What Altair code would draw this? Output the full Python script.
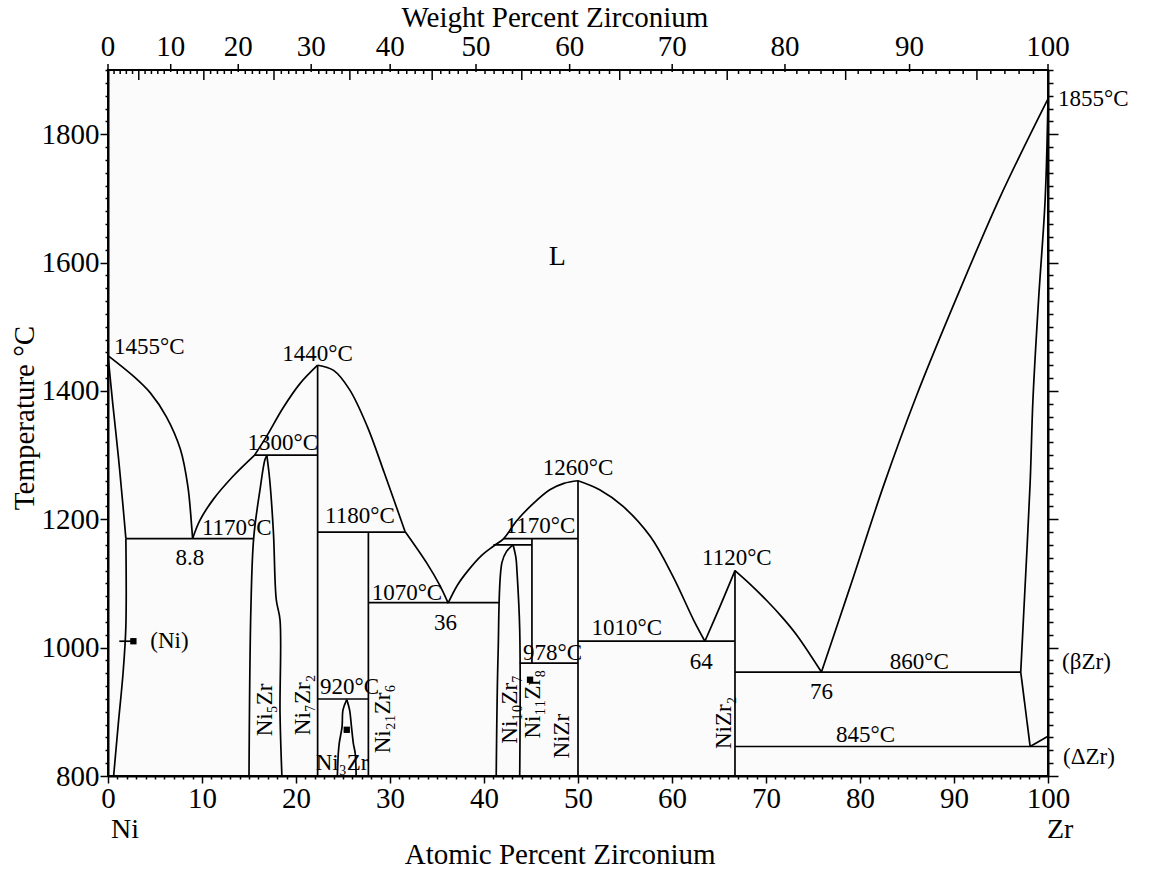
import altair as alt
import pandas as pd

# ---------------- phase boundaries: (atomic % Zr, temperature in degC) ----------------
liq_ni = [(0, 1455), (2.7, 1423), (4.5, 1397), (6.2, 1360), (7.7, 1309), (8.5, 1251), (8.9, 1189), (9.0, 1170)]
sol_ni = [(0, 1455), (0.5, 1381), (1.1, 1298), (1.6, 1220), (1.9, 1170)]
solv_ni = [(1.9, 1170), (1.9, 1033), (1.6, 960), (1.1, 882), (0.6, 800)]
iso_1170a = [(1.9, 1170), (15.5, 1170)]
ni5zr_left = [(16.9, 1299), (16.7, 1293), (16.2, 1249), (15.5, 1171), (15.2, 1060), (15.0, 800)]
ni5zr_right = [(16.9, 1299), (17.2, 1262), (17.6, 1179), (17.9, 1075), (18.3, 1043), (18.3, 898), (18.5, 800)]
liq_a1 = [(9.0, 1170), (9.8, 1199), (11.2, 1231), (13.3, 1267), (15.6, 1300)]
liq_a2 = [(15.6, 1300), (16.9, 1330), (18.6, 1373), (20.4, 1411), (22.3, 1440)]
iso_1300 = [(15.6, 1300), (22.3, 1300)]
ni7zr2 = [(22.3, 1440), (22.3, 800)]
liq_b1 = [(22.3, 1440), (24.0, 1432), (25.7, 1402), (27.6, 1344), (29.4, 1272), (31.6, 1181)]
liq_b2 = [(31.6, 1181), (33.9, 1132), (35.3, 1097), (36.2, 1069)]
iso_1180 = [(22.3, 1180), (31.6, 1180)]
ni21zr8 = [(27.7, 1180), (27.7, 800)]
iso_1070 = [(27.7, 1070), (41.6, 1070)]
iso_920 = [(22.3, 920), (27.7, 920)]
ni3zr_left = [(25.4, 919), (25.0, 903), (24.9, 877), (24.6, 851), (24.5, 835), (24.4, 800)]
ni3zr_right = [(25.4, 919), (25.7, 903), (25.9, 877), (26.1, 851), (26.3, 835), (26.4, 800)]
liq_c = [(36.2, 1070), (37.2, 1098), (38.3, 1120), (39.7, 1143), (41.0, 1158), (42.1, 1170), (43.5, 1198),
         (45.2, 1224), (47.0, 1246), (48.5, 1256), (50.0, 1260)]
iso_1160 = [(41.0, 1160), (45.1, 1160)]
iso_1170b = [(42.1, 1170), (50.0, 1170)]
ni10zr7_left = [(43.1, 1160), (42.4, 1150), (41.9, 1132), (41.5, 991), (41.3, 800)]
ni10zr7_right = [(43.1, 1160), (43.4, 1140), (43.5, 1121), (43.8, 1028), (43.8, 800)]
ni11zr9 = [(45.1, 1170), (45.1, 976)]
iso_978 = [(43.8, 976), (50.0, 976)]
nizr = [(50.0, 1260), (50.0, 800)]
liq_d = [(50.0, 1260), (52.3, 1246), (54.8, 1220), (57.7, 1173), (60.1, 1111), (62.3, 1043), (63.5, 1010)]
iso_1010 = [(50.0, 1010), (66.7, 1010)]
liq_e = [(63.5, 1010), (65.1, 1064), (66.7, 1120)]
nizr2 = [(66.7, 1120), (66.7, 800)]
liq_f = [(66.7, 1120), (68.3, 1099), (70.1, 1073), (71.8, 1046), (73.3, 1019), (75.9, 962)]
liq_g = [(75.9, 962), (77.9, 1049), (79.3, 1110), (82.5, 1252), (86.0, 1392), (90.3, 1546), (94.9, 1702), (100.0, 1855)]
sol_zr = [(100.0, 1855), (99.7, 1699), (99.0, 1543), (98.4, 1387), (98.1, 1257), (97.4, 1049), (97.1, 962)]
solv_zr = [(97.1, 962), (98.1, 846)]
zr_alpha = [(98.1, 846), (100.0, 862)]
iso_960 = [(66.7, 962), (97.1, 962)]
iso_845 = [(66.7, 846), (100.0, 846)]
ni_pointer = [(1.2, 1010), (2.6, 1010)]

segments = {
    "liq_ni": liq_ni, "sol_ni": sol_ni, "solv_ni": solv_ni, "iso_1170a": iso_1170a,
    "ni5zr_left": ni5zr_left, "ni5zr_right": ni5zr_right, "liq_a1": liq_a1, "liq_a2": liq_a2,
    "iso_1300": iso_1300, "ni7zr2": ni7zr2, "liq_b1": liq_b1, "liq_b2": liq_b2, "iso_1180": iso_1180,
    "ni21zr8": ni21zr8, "iso_1070": iso_1070, "iso_920": iso_920, "ni3zr_left": ni3zr_left,
    "ni3zr_right": ni3zr_right, "liq_c": liq_c, "iso_1160": iso_1160, "iso_1170b": iso_1170b,
    "ni10zr7_left": ni10zr7_left, "ni10zr7_right": ni10zr7_right, "ni11zr9": ni11zr9,
    "iso_978": iso_978, "nizr": nizr, "liq_d": liq_d, "iso_1010": iso_1010, "liq_e": liq_e,
    "nizr2": nizr2, "liq_f": liq_f, "liq_g": liq_g, "sol_zr": sol_zr, "solv_zr": solv_zr,
    "zr_alpha": zr_alpha, "iso_960": iso_960, "iso_845": iso_845, "ni_pointer": ni_pointer,
}

# small black pointer marks
blob_x = [2.7, 25.4, 44.9]
blob_T = [1010, 872, 950]

# ---------------- annotations ----------------
ann_text = ["1455°C", "1440°C", "1300°C", "1170°C", "8.8", "1180°C", "1070°C", "36", "1260°C", "1170°C",
            "1120°C", "1010°C", "64", "978°C", "920°C", "860°C", "76", "845°C", "Ni₃Zr"]
ann_x = [4.4, 22.3, 18.6, 13.7, 8.7, 26.8, 31.8, 35.9, 50.0, 46.0, 66.9, 55.2, 63.1, 47.3, 25.7, 86.3, 75.9, 80.6, 24.9]
ann_T = [1469, 1457, 1319, 1186, 1140, 1205, 1085, 1038, 1280, 1189, 1140, 1030, 978, 991, 939, 978, 931, 864, 820]

side_text = ["1855°C", "(βZr)", "(ΔZr)", "(Ni)"]
side_x = [101.06, 101.5, 101.6, 4.5]
side_T = [1855, 978, 830, 1010]

phase_text = ["Ni₅Zr", "Ni₇Zr₂", "Ni₂₁Zr₆", "Ni₁₀Zr₇", "Ni₁₁Zr₈", "NiZr", "NiZr₂"]
phase_x = [16.7, 20.7, 29.3, 42.8, 45.2, 48.3, 65.5]
phase_T = [903, 911, 889, 904, 912, 862, 883]

# weight-percent ticks of the top axis
wt_major = list(range(0, 101, 10))
wt_mid = list(range(5, 100, 10))
wt_minor = [w for w in range(1, 100) if w % 5 != 0]


def wt_to_at(w):
    a = w / 91.224
    b = (100 - w) / 58.693
    return 100 * a / (a + b)


FONT = "Liberation Serif"

rows = []
for name, pts in segments.items():
    for i, (x, t) in enumerate(pts):
        rows.append({"seg": name, "i": i, "x": x, "T": t})
lines_df = pd.DataFrame(rows)

XS = alt.Scale(domain=[0, 100], nice=False, zero=False)
YS = alt.Scale(domain=[800, 1900], nice=False, zero=False)

x_axis = alt.Axis(
    values=list(range(0, 101)),
    labelExpr="datum.value % 10 == 0 ? datum.label : ''",
    tickSize={"condition": {"test": "datum.value % 10 == 0", "value": 7}, "value": 3},
    format="d", labelFont=FONT, labelFontSize=29, labelColor="black", labelPadding=1,
    tickColor="black", tickWidth=1.5, domainColor="black", domainWidth=2,
    grid=False, title=None, labelOverlap=False, labelFlush=False,
)
y_left = alt.Axis(
    values=list(range(800, 1901, 20)),
    labelExpr="datum.value % 200 == 0 ? datum.label : ''",
    tickSize={"condition": {"test": "datum.value % 200 == 0", "value": 8}, "value": 3},
    format="d", labelFont=FONT, labelFontSize=29, labelColor="black", labelPadding=1,
    tickColor="black", tickWidth=1.5, domainColor="black", domainWidth=2,
    grid=False, title=None, labelOverlap=False, labelFlush=False,
)
y_right = alt.Axis(
    orient="right", values=list(range(800, 1901, 20)), labels=False,
    tickSize={"condition": {"test": "datum.value % 200 == 0", "value": 10}, "value": 5},
    tickColor="black", tickWidth=1.5, domainColor="black", domainWidth=2, grid=False, title=None,
)


def X(field="x"):
    return alt.X(f"{field}:Q", scale=XS, axis=x_axis)


def Y(field="T", axis=None):
    return alt.Y(f"{field}:Q", scale=YS, axis=axis)


lines = alt.Chart(lines_df).mark_line(color="black", strokeWidth=1.7, interpolate="catmull-rom").encode(
    x=X(), y=Y(axis=y_left), detail="seg:N", order="i:Q"
)
right_axis = alt.Chart(pd.DataFrame({"x": [0, 100], "T": [800, 1900]})).mark_point(opacity=0).encode(
    x=X(), y=Y(axis=y_right)
)

blobs = alt.Chart(pd.DataFrame({"x": blob_x, "T": blob_T})).mark_point(
    shape="square", filled=True, color="black", size=40, opacity=1
).encode(x=X(), y=Y())

ann = alt.Chart(pd.DataFrame({"x": ann_x, "T": ann_T, "t": ann_text})).mark_text(
    font=FONT, fontSize=23, color="black", align="center", baseline="middle"
).encode(x=X(), y=Y(), text="t:N")

side = alt.Chart(pd.DataFrame({"x": side_x, "T": side_T, "t": side_text})).mark_text(
    font=FONT, fontSize=23, color="black", align="left", baseline="middle"
).encode(x=X(), y=Y(), text="t:N")

phase = alt.Chart(pd.DataFrame({"x": phase_x, "T": phase_T, "t": phase_text})).mark_text(
    font=FONT, fontSize=23, color="black", align="center", baseline="middle", angle=270
).encode(x=X(), y=Y(), text="t:N")

liquid = alt.Chart(pd.DataFrame({"x": [47.8], "T": [1608], "t": ["L"]})).mark_text(
    font=FONT, fontSize=28, color="black", align="center", baseline="middle"
).encode(x=X(), y=Y(), text="t:N")

# top (weight percent) axis
top_major = pd.DataFrame({"x": [wt_to_at(w) for w in wt_major], "t": [str(w) for w in wt_major]})
top_mid = pd.DataFrame({"x": [wt_to_at(w) for w in wt_mid]})
top_minor = pd.DataFrame({"x": [wt_to_at(w) for w in wt_minor]})

tick_major = alt.Chart(top_major).mark_rule(color="black", strokeWidth=1.5).encode(
    x=X(), y=alt.value(-6), y2=alt.value(2))
tick_mid = alt.Chart(top_mid).mark_rule(color="black", strokeWidth=1.5).encode(
    x=X(), y=alt.value(0), y2=alt.value(10))
tick_minor = alt.Chart(top_minor).mark_rule(color="black", strokeWidth=1.5).encode(
    x=X(), y=alt.value(0), y2=alt.value(4))
top_labels = alt.Chart(top_major).mark_text(
    font=FONT, fontSize=29, color="black", align="center", baseline="middle"
).encode(x=X(), y=alt.value(-23), text="t:N")

# titles and element labels
titles_df = pd.DataFrame({
    "x": [47.55, 48.1, 1.8, 101.3],
    "t": ["Weight Percent Zirconium", "Atomic Percent Zirconium", "Ni", "Zr"],
    "row": ["top", "bottom", "el", "el"],
})
title_top = alt.Chart(titles_df[titles_df.row == "top"]).mark_text(
    font=FONT, fontSize=29, color="black", align="center", baseline="middle"
).encode(x=X(), y=alt.value(-52), text="t:N")
title_bottom = alt.Chart(titles_df[titles_df.row == "bottom"]).mark_text(
    font=FONT, fontSize=29, color="black", align="center", baseline="middle"
).encode(x=X(), y=alt.value(785), text="t:N")
elements = alt.Chart(titles_df[titles_df.row == "el"]).mark_text(
    font=FONT, fontSize=28, color="black", align="center", baseline="middle"
).encode(x=X(), y=alt.value(760), text="t:N")
title_left = alt.Chart(pd.DataFrame({"t": ["Temperature °C"]})).mark_text(
    font=FONT, fontSize=29, color="black", align="center", baseline="middle", angle=270
).encode(x=alt.value(-83), y=alt.value(348), text="t:N")

chart = alt.layer(
    lines, right_axis, blobs, ann, side, phase, liquid,
    tick_major, tick_mid, tick_minor, top_labels,
    title_top, title_bottom, elements, title_left,
).resolve_axis(y="independent").properties(
    width=940, height=706,
    autosize=alt.AutoSizeParams(type="none"),
    padding={"left": 108, "top": 70, "right": 103, "bottom": 93},
    background="white",
).configure_view(fill="#fbfbfb", stroke="black", strokeWidth=2)

chart.save("out.html", embed_options={"renderer": "svg", "actions": False})
